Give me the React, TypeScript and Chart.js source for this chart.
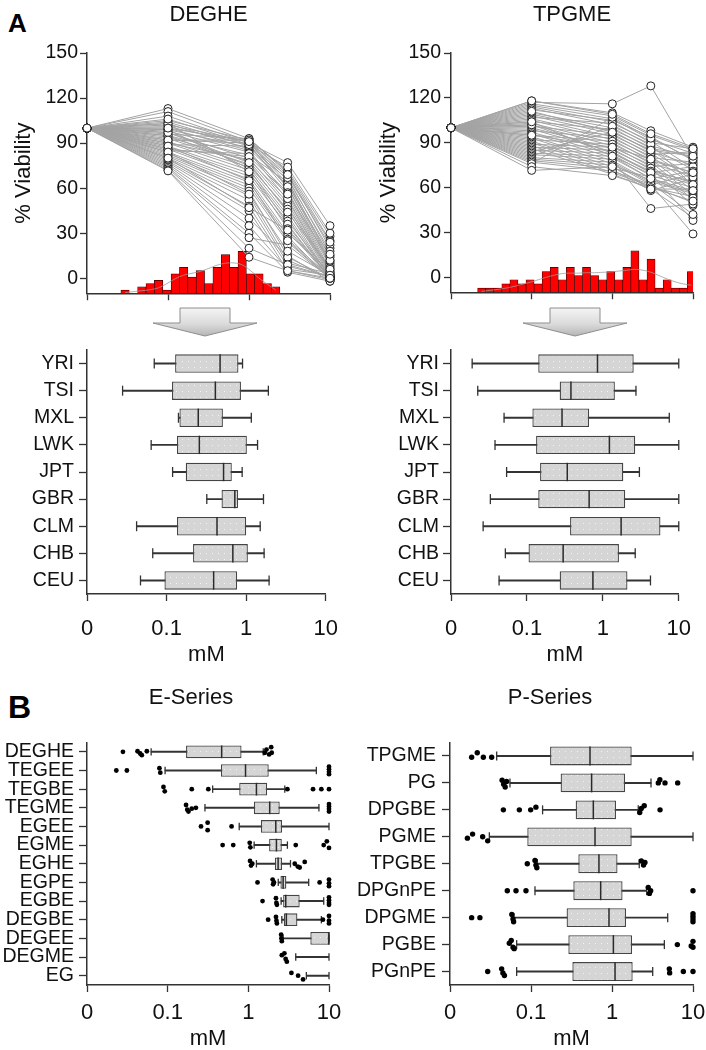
import React, { useEffect, useRef } from 'react';
import { Chart, registerables } from 'chart.js';

Chart.register(...registerables);

const FONT = '"Liberation Sans", Arial, Helvetica, sans-serif';
const INK = '#111111';
const AXIS = '#333333';
Chart.defaults.font.family = FONT;
Chart.defaults.color = INK;

// ---------------- shared axis data ----------------
const DOSES = [0, 0.1, 1, 3, 10]; // mM
const ZERO_AT = 0.01; // the "0" dose sits at the origin of the log axis
const X_TICKS = [0.01, 0.1, 1, 10];
const X_TICK_LABELS = ['0', '0.1', '1', '10'];
const VIAB_TICKS = [0, 30, 60, 90, 120, 150];

// ---------------- Panel A: DEGHE viability curves (% viability at DOSES) ----------------
const DEGHE_CURVES: number[][] = [
  [100, 113, 93, 70, 20], [100, 111, 91, 65, 12], [100, 108, 90, 77, 35], [100, 105, 92, 72, 28],
  [100, 104, 88, 68, 22], [100, 103, 86, 62, 15], [100, 102, 91, 60, 10], [100, 101, 89, 58, 8],
  [100, 100, 85, 55, 5], [100, 99, 87, 66, 18], [100, 98, 84, 52, 3], [100, 97, 80, 50, 2],
  [100, 96, 93, 71, 25], [100, 95, 82, 64, 14], [100, 94, 78, 48, 1], [100, 93, 76, 45, 0],
  [100, 92, 90, 63, 11], [100, 91, 74, 42, 0], [100, 90, 72, 40, -1], [100, 89, 88, 61, 9],
  [100, 88, 70, 38, 2], [100, 87, 68, 35, 0], [100, 86, 66, 30, 4], [100, 85, 83, 57, 6],
  [100, 84, 64, 28, -1], [100, 83, 62, 26, 1], [100, 82, 60, 24, 0], [100, 81, 58, 15, -2],
  [100, 80, 55, 12, 0], [100, 79, 52, 10, 3], [100, 78, 48, 8, 1], [100, 77, 45, 5, -1],
  [100, 76, 40, 14, 0], [100, 75, 35, 6, 2], [100, 74, 30, 4, -2], [100, 73, 27, 22, 0],
  [100, 72, 20, 9, 1], [100, 71.5, 14, 5, 0], [100, 95, 75, 46, 7], [100, 90, 79, 53, 4],
  [100, 86, 81, 56, 12], [100, 99, 73, 36, 0], [100, 103, 71, 33, 1], [100, 97, 77, 44, 6],
  [100, 92, 92, 67, 16], [100, 88, 65, 25, 0], [100, 84, 56, 18, 2], [100, 80, 47, 32, 0],
  [100, 106, 89, 74, 30], [100, 100, 91, 69, 24],
];
const DEGHE_BINS = [0.02951, 0.03744, 0.04749, 0.06024, 0.07642, 0.09694, 0.1230, 0.1560, 0.1979, 0.2510,
  0.3184, 0.4039, 0.5124, 0.6500, 0.8246, 1.046, 1.327, 1.683, 2.135];
const DEGHE_COUNTS = [1, 0, 2, 3, 4, 1, 6, 8, 5, 7, 3, 8, 12, 8, 13, 6, 6, 3, 2];
const DEGHE_FIT = [0.2, 0.5, 0.8, 1.1, 1.7, 3.0, 4.5, 5.6, 6.2, 6.8, 7.7, 8.7, 9.3, 9.4, 8.8, 7.0, 4.7, 2.8, 1.0];

// ---------------- Panel A: TPGME viability curves ----------------
const TPGME_CURVES: number[][] = [
  [100, 118, 110, 98, 87], [100, 117, 116, 128, 80], [100, 116, 108, 95, 85], [100, 115, 106, 92, 83],
  [100, 114, 104, 90, 86], [100, 113, 102, 88, 80], [100, 112, 105, 94, 78], [100, 110, 100, 86, 82],
  [100, 109, 98, 84, 75], [100, 108, 96, 82, 84], [100, 107, 103, 91, 73], [100, 106, 94, 80, 77],
  [100, 105, 92, 78, 70], [100, 104, 99, 87, 72], [100, 103, 90, 76, 68], [100, 102, 88, 74, 76],
  [100, 101, 95, 83, 65], [100, 100, 86, 72, 63], [100, 99, 84, 70, 74], [100, 98, 93, 81, 62],
  [100, 97, 82, 68, 60], [100, 96, 80, 66, 71], [100, 95, 91, 79, 58], [100, 94, 78, 64, 56],
  [100, 93, 76, 62, 69], [100, 92, 89, 77, 55], [100, 91, 74, 60, 54], [100, 90, 72, 58, 66],
  [100, 89, 87, 75, 52], [100, 88, 70, 61, 50], [100, 87, 85, 73, 48], [100, 86, 69, 59, 40],
  [100, 85, 83, 71, 64], [100, 84, 97, 85, 67], [100, 83, 81, 69, 38], [100, 82, 79, 46, 49],
  [100, 81, 101, 89, 61], [100, 80, 77, 63, 42], [100, 79, 75, 65, 57], [100, 78, 73, 67, 53],
  [100, 77, 71, 62, 29], [100, 76, 107, 93, 79], [100, 74, 68, 60, 51], [100, 71.5, 74, 59, 59],
  [100, 111, 97, 85, 81], [100, 102, 83, 70, 62], [100, 95, 87, 79, 70], [100, 118, 109, 96, 86],
  [100, 104, 81, 66, 58],
];
const TPGME_BINS = [0.02399, 0.03020, 0.03802, 0.04786, 0.06026, 0.07586, 0.09550, 0.1202, 0.1514, 0.1905,
  0.2399, 0.3020, 0.3802, 0.4786, 0.6026, 0.7586, 0.9550, 1.202, 1.514, 1.905, 2.399, 3.020, 3.802,
  4.786, 6.026, 7.586, 9.550];
const TPGME_COUNTS = [1, 1, 1, 2, 3, 2, 3, 2, 5, 6, 3, 6, 4, 6, 4, 3, 5, 3, 6, 10, 3, 8, 1, 3, 1, 1, 5];
const TPGME_FIT = [0.2, 0.45, 0.7, 1.0, 1.4, 1.9, 2.4, 3.0, 3.6, 4.1, 4.5, 4.6, 4.6, 4.7, 4.7, 4.8, 4.9,
  5.1, 5.3, 5.5, 5.3, 4.8, 4.0, 3.2, 2.5, 2.0, 1.7];

// ---------------- Panel A: EC50 by population (mM) ----------------
const POPS = ['YRI', 'TSI', 'MXL', 'LWK', 'JPT', 'GBR', 'CLM', 'CHB', 'CEU'];
const DEGHE_POP_MIN = [0.070, 0.028, 0.141, 0.064, 0.119, 0.32, 0.042, 0.067, 0.047];
const DEGHE_POP_Q1 = [0.128, 0.117, 0.145, 0.135, 0.174, 0.49, 0.135, 0.215, 0.094];
const DEGHE_POP_MED = [0.47, 0.41, 0.25, 0.258, 0.52, 0.72, 0.43, 0.68, 0.39];
const DEGHE_POP_Q3 = [0.80, 0.86, 0.51, 1.02, 0.66, 0.79, 1.00, 1.05, 0.77];
const DEGHE_POP_MAX = [0.90, 1.9, 1.16, 1.39, 0.89, 1.65, 1.50, 1.68, 1.94];

const TPGME_POP_MIN = [0.019, 0.0225, 0.050, 0.038, 0.054, 0.033, 0.0265, 0.052, 0.043];
const TPGME_POP_Q1 = [0.141, 0.27, 0.118, 0.132, 0.149, 0.141, 0.37, 0.105, 0.27];
const TPGME_POP_MED = [0.85, 0.38, 0.29, 1.22, 0.34, 0.66, 1.74, 0.30, 0.74];
const TPGME_POP_Q3 = [2.55, 1.44, 0.66, 2.67, 1.86, 1.97, 5.74, 1.63, 2.11];
const TPGME_POP_MAX = [10, 2.73, 7.5, 10, 3.03, 10, 10, 2.67, 4.24];

// ---------------- Panel B: E-Series EC50 (mM) ----------------
const E_SERIES = ['DEGHE', 'TEGEE', 'TEGBE', 'TEGME', 'EGEE', 'EGME', 'EGHE', 'EGPE', 'EGBE', 'DEGBE', 'DEGEE', 'DEGME', 'EG'];
const E_MIN = [0.0624, 0.0929, 0.361, 0.290, 0.771, 1.18, 1.26, 2.35, 2.55, 2.6, 2.7, 3.87, 5.24];
const E_Q1 = [0.169, 0.457, 0.771, 1.17, 1.43, 1.81, 2.13, 2.50, 2.70, 2.75, 5.87, 10, 10];
const E_MED: (number | null)[] = [0.467, 0.923, 1.26, 1.84, 2.19, 2.23, 2.34, 2.70, 2.91, 2.96, 10, null, null];
const E_Q3 = [0.824, 1.79, 1.71, 2.45, 2.62, 2.60, 2.62, 2.96, 4.33, 4.06, 10, 10, 10];
const E_MAX = [1.53, 6.97, 2.83, 7.5, 10, 3.05, 3.33, 5.6, 8.6, 8.04, 10, 10, 10];
// outliers per compound: [mM, vertical jitter in rows]
const E_OUTLIERS: [number, number][][] = [
  [[0.0279, 0], [0.0423, -0.03], [0.0456, 0.09], [0.0478, 0.18], [0.0552, -0.03], [1.60, 0.05], [1.68, -0.12], [1.81, 0.14], [1.92, -0.25], [1.95, 0.05]],
  [[0.0231, 0], [0.0312, 0], [0.079, -0.12], [0.081, 0.12], [10, -0.2], [10, -0.07], [10, 0.07], [10, 0.2]],
  [[0.0887, -0.12], [0.092, 0.12], [0.199, 0], [0.319, 0], [3.05, 0], [6.34, 0], [8.04, 0], [10, 0]],
  [[0.169, -0.15], [0.175, 0.1], [0.181, 0.2], [0.199, 0.05], [0.224, 0], [10, -0.2], [10, -0.07], [10, 0.07], [10, 0.2]],
  [[0.259, 0], [0.313, -0.2], [0.313, 0.2], [0.62, 0]],
  [[0.48, 0], [0.65, 0], [1.04, -0.12], [1.06, 0.12], [3.87, 0], [8.6, 0], [9.4, -0.2], [10, 0.15]],
  [[1.05, -0.15], [1.08, 0.1], [1.12, 0], [3.76, 0], [4.1, 0.15], [4.33, 0.2], [5.0, -0.1]],
  [[1.30, 0], [2.0, -0.15], [2.03, 0.1], [2.08, 0], [7.65, 0], [10, -0.15], [10, 0.05], [10, 0.2]],
  [[1.50, 0], [2.2, -0.15], [2.23, 0.1], [2.26, 0.2], [10, -0.2], [10, -0.05], [10, 0.1], [10, 0.2]],
  [[1.76, 0], [2.2, -0.15], [2.23, 0.05], [2.26, 0.2], [8.4, 0], [10, -0.2], [10, 0.05], [10, 0.2]],
  [[2.55, -0.2], [2.57, 0], [2.6, 0.15]],
  [[2.6, -0.1], [2.8, -0.2], [2.9, 0.1], [3.0, 0.25]],
  [[3.42, -0.15], [4.14, 0], [4.77, 0.2]],
];

// ---------------- Panel B: P-Series EC50 (mM) ----------------
const P_SERIES = ['TPGME', 'PG', 'DPGBE', 'PGME', 'TPGBE', 'DPGnPE', 'DPGME', 'PGBE', 'PGnPE'];
const P_MIN = [0.0377, 0.055, 0.139, 0.0306, 0.1197, 0.112, 0.0617, 0.0665, 0.0665];
const P_Q1 = [0.172, 0.232, 0.356, 0.090, 0.384, 0.333, 0.275, 0.289, 0.324];
const P_MED: (number | null)[] = [0.535, 0.56, 0.588, 0.617, 0.69, 0.725, 0.918, 1.04, 1.09];
const P_Q3 = [1.75, 1.45, 1.12, 1.75, 1.17, 1.35, 1.49, 1.77, 1.80];
const P_MAX = [10, 3.03, 2.11, 10, 2.17, 2.68, 4.87, 4.43, 3.18];
const P_OUTLIERS: [number, number][][] = [
  [[0.0185, 0.05], [0.0217, -0.12], [0.0258, 0.05], [0.0327, 0.05]],
  [[0.044, -0.1], [0.046, 0.05], [0.048, 0.15], [0.050, -0.05], [3.73, 0], [3.9, -0.12], [4.51, 0], [6.47, 0]],
  [[0.0456, 0], [0.0718, 0], [0.099, 0], [0.115, -0.1], [2.2, 0.1], [2.3, -0.05], [2.5, -0.15], [3.92, 0]],
  [[0.0164, 0.05], [0.019, -0.1], [0.0253, 0], [0.0292, 0.15]],
  [[0.090, 0], [0.112, -0.12], [0.115, 0.05], [0.118, 0.15], [2.3, -0.1], [2.45, 0.05], [2.55, -0.05]],
  [[0.051, 0], [0.0653, 0], [0.0867, 0], [2.8, -0.12], [2.9, 0.1], [3.0, 0], [10, 0]],
  [[0.0185, 0], [0.0234, 0], [0.058, -0.12], [0.060, 0.05], [0.061, 0.15], [10, -0.15], [10, -0.05], [10, 0.05], [10, 0.15]],
  [[0.054, -0.05], [0.057, -0.15], [0.060, 0.1], [0.062, 0.15], [6.41, 0], [9.5, 0.05], [10, -0.12], [10, 0.1]],
  [[0.0292, 0], [0.0434, -0.1], [0.045, 0.05], [0.047, 0.15], [5.1, -0.1], [5.15, 0.05], [7.6, 0], [10, 0]],
];

// ---------------- helpers ----------------
const dosePos = (d: number) => (d === 0 ? ZERO_AT : d);

function makePattern(): any {
  const c = document.createElement('canvas');
  c.width = 6;
  c.height = 6;
  const g = c.getContext('2d')!;
  g.fillStyle = '#d5d5d5';
  g.fillRect(0, 0, 6, 6);
  g.fillStyle = '#f3f3f3';
  g.fillRect(2, 2, 1, 1);
  return g.createPattern(c, 'repeat') || '#d5d5d5';
}

function xLog(o: { labels: boolean; height: number; tickPad: number; mm: boolean; mmPad?: number }) {
  return {
    type: 'logarithmic',
    min: ZERO_AT,
    max: 10,
    offset: false,
    afterBuildTicks: (s: any) => {
      s.ticks = X_TICKS.map((v) => ({ value: v }));
    },
    afterFit: (s: any) => {
      s.height = o.height;
    },
    ticks: {
      autoSkip: false,
      maxRotation: 0,
      minRotation: 0,
      padding: o.tickPad,
      color: INK,
      font: { size: 22, lineHeight: 1.2 },
      callback: (v: number) => (o.labels ? X_TICK_LABELS[X_TICKS.indexOf(v)] ?? '' : ''),
    },
    grid: { display: true, drawOnChartArea: false, drawTicks: true, tickLength: 7, tickColor: AXIS, tickWidth: 1.3, offset: false },
    border: { display: true, color: AXIS, width: 1.5 },
    title: o.mm
      ? { display: true, text: 'mM', color: INK, font: { size: 22, lineHeight: 1 }, padding: { top: 0, bottom: o.mmPad ?? 0 } }
      : { display: false },
  };
}

// invisible right-hand spacer so a full-width title can be centred independently of the plot area
function spacer(width: number) {
  return {
    type: 'linear',
    position: 'right',
    display: true,
    grid: { display: false, drawTicks: false },
    border: { display: false },
    ticks: { display: false },
    afterFit: (s: any) => {
      s.width = width;
    },
  };
}

function viabilityConfig(o: {
  title: string; curves: number[][]; bins: number[]; counts: number[]; fit: number[]; histMax: number;
  yWidth: number; yTitlePad: number; yTickPad: number; padRight: number;
}) {
  const lines = o.curves.map((row) => ({
    type: 'line',
    data: row.map((v, j) => ({ x: dosePos(DOSES[j]), y: v })),
    borderColor: '#a3a3a3',
    borderWidth: 1,
    pointRadius: 0,
    order: 2,
    clip: false,
  }));
  const points = {
    type: 'scatter',
    data: o.curves.flatMap((row) => row.map((v, j) => ({ x: dosePos(DOSES[j]), y: v }))),
    pointRadius: 4,
    pointBorderColor: '#222222',
    pointBackgroundColor: '#ffffff',
    pointBorderWidth: 1,
    order: 0,
    clip: false,
  };
  const hist = {
    type: 'bar',
    yAxisID: 'yh',
    data: o.bins.map((b, i) => ({ x: b, y: o.counts[i] })),
    backgroundColor: '#ff0000',
    borderColor: '#3a0000',
    borderWidth: 0.7,
    borderSkipped: false,
    barPercentage: 1,
    categoryPercentage: 1,
    grouped: false,
    order: 3,
  };
  const fit = {
    type: 'line',
    yAxisID: 'yh',
    data: o.bins.map((b, i) => ({ x: b, y: o.fit[i] })),
    borderColor: '#9a9a9a',
    borderWidth: 0.8,
    pointRadius: 0,
    tension: 0.4,
    order: 1,
  };
  return {
    type: 'line',
    data: { datasets: [points, fit, ...lines, hist] },
    options: {
      responsive: false,
      animation: false,
      events: [],
      layout: { padding: { left: 0, right: o.padRight, top: 0, bottom: 0 } },
      plugins: {
        legend: { display: false },
        tooltip: { enabled: false },
        title: {
          display: true,
          text: o.title,
          fullSize: false,
          color: INK,
          font: { size: 22, weight: 'normal', lineHeight: 1.2 },
          padding: { top: 2, bottom: 24.6 },
        },
      },
      scales: {
        x: xLog({ labels: false, height: 10, tickPad: 0, mm: false }),
        y: {
          type: 'linear',
          min: -10,
          max: 150,
          afterBuildTicks: (s: any) => {
            s.ticks = VIAB_TICKS.map((v) => ({ value: v }));
          },
          afterFit: (s: any) => {
            s.width = o.yWidth;
          },
          ticks: { padding: o.yTickPad, color: INK, font: { size: 19.5, lineHeight: 1 } },
          grid: { display: true, drawOnChartArea: false, drawTicks: true, tickLength: 7, tickColor: AXIS, tickWidth: 1.3 },
          border: { display: true, color: AXIS, width: 1.5 },
          title: {
            display: true,
            text: '% Viability',
            color: INK,
            font: { size: 22, lineHeight: 1.2 },
            padding: { top: o.yTitlePad, bottom: 0 },
          },
        },
        yh: { type: 'linear', display: false, min: 0, max: o.histMax },
      },
    },
  };
}

function boxConfig(o: {
  cats: string[]; mins: number[]; q1: number[]; med: (number | null)[]; q3: number[]; maxs: number[];
  outliers?: [number, number][][]; boxPct: number; capR: number; medR: number; outR: number;
  title?: string; titlePad?: [number, number]; rightSpace?: number;
  pad: { left: number; right: number; top: number; bottom: number };
  yWidth: number; yTickPad: number; labelSize: number; xHeight: number; xTickPad: number; mmPad: number;
}) {
  const pattern = makePattern();
  const whiskers = {
    type: 'bar',
    data: o.cats.map((_, i) => ({ y: i, x: [o.mins[i], o.maxs[i]] })),
    backgroundColor: AXIS,
    borderWidth: 0,
    barThickness: 1.3,
    grouped: false,
    order: 3,
  };
  const boxes = {
    type: 'bar',
    data: o.cats.map((_, i) => ({ y: i, x: [o.q1[i], o.q3[i]] })),
    backgroundColor: pattern,
    borderColor: '#454545',
    borderWidth: 1.3,
    borderSkipped: false,
    barPercentage: o.boxPct,
    categoryPercentage: 1,
    grouped: false,
    order: 2,
  };
  const caps = {
    type: 'scatter',
    data: o.cats.flatMap((_, i) => [{ x: o.mins[i], y: i }, { x: o.maxs[i], y: i }]),
    pointStyle: 'line',
    pointRotation: 90,
    pointRadius: o.capR,
    pointBorderColor: AXIS,
    pointBorderWidth: 1.3,
    order: 1,
    clip: false,
  };
  const medians = {
    type: 'scatter',
    data: o.cats.flatMap((_, i) => (o.med[i] === null ? [] : [{ x: o.med[i] as number, y: i }])),
    pointStyle: 'line',
    pointRotation: 90,
    pointRadius: o.medR,
    pointBorderColor: '#2a2a2a',
    pointBorderWidth: 1.5,
    order: 0,
    clip: false,
  };
  const datasets: any[] = [medians, caps, boxes, whiskers];
  if (o.outliers) {
    datasets.unshift({
      type: 'scatter',
      data: o.outliers.flatMap((list, i) => list.map(([v, dy]) => ({ x: v, y: i + dy }))),
      pointRadius: o.outR,
      pointBackgroundColor: '#000000',
      pointBorderColor: '#000000',
      pointBorderWidth: 0,
      order: 0,
      clip: false,
    });
  }
  const scales: any = {
    x: xLog({ labels: true, height: o.xHeight, tickPad: o.xTickPad, mm: true, mmPad: o.mmPad }),
    y: {
      type: 'linear',
      reverse: true,
      min: -0.5,
      max: o.cats.length - 0.5,
      offset: false,
      afterBuildTicks: (s: any) => {
        s.ticks = o.cats.map((_, i) => ({ value: i }));
      },
      afterFit: (s: any) => {
        s.width = o.yWidth;
      },
      ticks: {
        autoSkip: false,
        padding: o.yTickPad,
        color: INK,
        font: { size: o.labelSize, lineHeight: 1 },
        callback: (v: number) => o.cats[v] ?? '',
      },
      grid: { display: true, drawOnChartArea: false, drawTicks: true, tickLength: 8, tickColor: AXIS, tickWidth: 1.3, offset: false },
      border: { display: true, color: AXIS, width: 1.5 },
    },
  };
  if (o.rightSpace) scales.space = spacer(o.rightSpace);
  return {
    type: 'bar',
    data: { datasets },
    options: {
      indexAxis: 'y',
      responsive: false,
      animation: false,
      events: [],
      layout: { padding: o.pad },
      plugins: {
        legend: { display: false },
        tooltip: { enabled: false },
        title: o.title
          ? {
              display: true,
              text: o.title,
              fullSize: true,
              color: INK,
              font: { size: 22, weight: 'normal', lineHeight: 1.2 },
              padding: { top: o.titlePad![0], bottom: o.titlePad![1] },
            }
          : { display: false },
      },
      scales,
    },
  };
}

function ChartCanvas(p: { left: number; top: number; width: number; height: number; build: () => any }) {
  const ref = useRef<HTMLCanvasElement>(null);
  useEffect(() => {
    const chart = new Chart(ref.current as HTMLCanvasElement, p.build());
    return () => chart.destroy();
  }, []);
  return (
    <canvas
      ref={ref}
      width={p.width}
      height={p.height}
      style={{ position: 'absolute', left: p.left, top: p.top, width: p.width, height: p.height }}
    />
  );
}

function Arrow(p: { left: number; top: number; id: string }) {
  return (
    <svg style={{ position: 'absolute', left: p.left, top: p.top }} width={110} height={34}>
      <defs>
        <linearGradient id={p.id} x1="0" y1="0" x2="0" y2="1">
          <stop offset="0" stopColor="#f4f4f4" />
          <stop offset="0.55" stopColor="#dcdcdc" />
          <stop offset="1" stopColor="#b5b5b5" />
        </linearGradient>
      </defs>
      <polygon
        points="29,2 79,2 79,17 106,17 54,30 2,17 29,17"
        fill={`url(#${p.id})`}
        stroke="#8e8e8e"
        strokeWidth={1}
      />
    </svg>
  );
}

export default function App() {
  return (
    <div style={{ position: 'absolute', left: 0, top: 0, width: 706, height: 1050, background: '#ffffff', overflow: 'hidden' }}>
      <div style={{ position: 'absolute', left: 8, top: 9.6, fontFamily: FONT, fontWeight: 'bold', fontSize: 26, lineHeight: '26px', color: '#000' }}>A</div>
      <div style={{ position: 'absolute', left: 8, top: 690.8, fontFamily: FONT, fontWeight: 'bold', fontSize: 32, lineHeight: '32px', color: '#000' }}>B</div>

      <ChartCanvas
        left={0}
        top={0}
        width={353}
        height={305}
        build={() =>
          viabilityConfig({
            title: 'DEGHE', curves: DEGHE_CURVES, bins: DEGHE_BINS, counts: DEGHE_COUNTS, fit: DEGHE_FIT,
            histMax: 74.5, yWidth: 87, yTitlePad: 11, yTickPad: 2, padRight: 23,
          })
        }
      />
      <ChartCanvas
        left={353}
        top={0}
        width={353}
        height={305}
        build={() =>
          viabilityConfig({
            title: 'TPGME', curves: TPGME_CURVES, bins: TPGME_BINS, counts: TPGME_COUNTS, fit: TPGME_FIT,
            histMax: 57.6, yWidth: 98, yTitlePad: 22.8, yTickPad: 3, padRight: 13,
          })
        }
      />

      <Arrow left={151} top={306} id="arrowL" />
      <Arrow left={521} top={306} id="arrowR" />

      <ChartCanvas
        left={0}
        top={335}
        width={353}
        height={335}
        build={() =>
          boxConfig({
            cats: POPS, mins: DEGHE_POP_MIN, q1: DEGHE_POP_Q1, med: DEGHE_POP_MED, q3: DEGHE_POP_Q3, maxs: DEGHE_POP_MAX,
            boxPct: 0.68, capR: 5, medR: 9.2, outR: 2.6,
            pad: { left: 0, right: 25, top: 15, bottom: 0 },
            yWidth: 87, yTickPad: 5, labelSize: 19.5, xHeight: 76, xTickPad: 15, mmPad: 4,
          })
        }
      />
      <ChartCanvas
        left={353}
        top={335}
        width={353}
        height={335}
        build={() =>
          boxConfig({
            cats: POPS, mins: TPGME_POP_MIN, q1: TPGME_POP_Q1, med: TPGME_POP_MED, q3: TPGME_POP_Q3, maxs: TPGME_POP_MAX,
            boxPct: 0.68, capR: 5, medR: 9.2, outR: 2.6,
            pad: { left: 0, right: 14, top: 15, bottom: 0 },
            yWidth: 98, yTickPad: 4, labelSize: 19.5, xHeight: 76, xTickPad: 15, mmPad: 4,
          })
        }
      />

      <ChartCanvas
        left={0}
        top={665}
        width={382}
        height={385}
        build={() =>
          boxConfig({
            cats: E_SERIES, mins: E_MIN, q1: E_Q1, med: E_MED, q3: E_Q3, maxs: E_MAX, outliers: E_OUTLIERS,
            boxPct: 0.68, capR: 3.7, medR: 6.35, outR: 2.4,
            title: 'E-Series', titlePad: [20, 31.1], rightSpace: 53,
            pad: { left: 0, right: 0, top: 0, bottom: 0 },
            yWidth: 87, yTickPad: 5, labelSize: 19.5, xHeight: 65, xTickPad: 7.5, mmPad: 0,
          })
        }
      />
      <ChartCanvas
        left={353}
        top={665}
        width={394}
        height={385}
        build={() =>
          boxConfig({
            cats: P_SERIES, mins: P_MIN, q1: P_Q1, med: P_MED, q3: P_Q3, maxs: P_MAX, outliers: P_OUTLIERS,
            boxPct: 0.7, capR: 4.5, medR: 9.45, outR: 2.7,
            title: 'P-Series', titlePad: [20, 31.1], rightSpace: 54,
            pad: { left: 0, right: 0, top: 0, bottom: 0 },
            yWidth: 97, yTickPad: 6, labelSize: 19.5, xHeight: 65, xTickPad: 7.5, mmPad: 0,
          })
        }
      />
    </div>
  );
}
